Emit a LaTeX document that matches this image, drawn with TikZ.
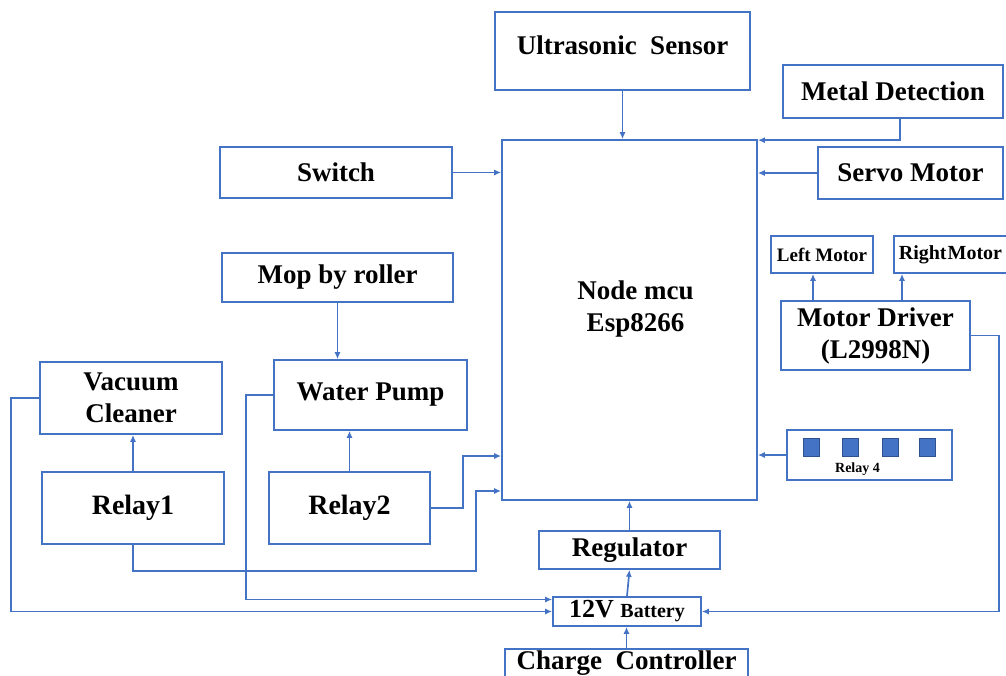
\documentclass[tikz,border=0pt]{standalone}
\usepackage{fontspec}
\setmainfont{Liberation Serif}
\usetikzlibrary{arrows.meta,calc}
\definecolor{bl}{HTML}{4472C4}
\definecolor{bldark}{HTML}{2F528F}
\begin{document}
\begin{tikzpicture}[x=1pt,y=-1pt,
  box/.style={draw=bl,line width=1.7pt,inner sep=2pt,align=center,
    font=\bfseries\fontsize{27}{32}\selectfont},
  smallbox/.style={box,font=\bfseries\fontsize{19}{22}\selectfont},
  arr/.style={draw=bl,line width=1.7pt,-{Latex[length=7pt,width=6pt]}},
  sq/.style={fill=bl,draw=bldark,line width=0.8pt}]
\useasboundingbox (0,0) rectangle (1006,675);
\clip (0,0) rectangle (1006,675);
\fill[white] (0,0) rectangle (1006,675);
% nodes
\node[box,minimum width=255pt,minimum height=78pt,
  label={[font=\bfseries\fontsize{27}{32}\selectfont,yshift=6pt]center:Ultrasonic\ \ Sensor}] (us) at (622.5,51) {};
\node[box,minimum width=220pt,minimum height=53pt] (md) at (893,91.5) {Metal Detection};
\node[box,minimum width=185pt,minimum height=52pt] (servo) at (910.5,173) {Servo Motor};
\node[box,minimum width=232pt,minimum height=51pt] (sw) at (336,172.5) {Switch};
\node[box,minimum width=231pt,minimum height=49pt] (mop) at (337.5,277.5) {Mop by\ roller};
\node[box,minimum width=255pt,minimum height=360pt,
  label={[font=\bfseries\fontsize{27}{32}\selectfont,align=center,xshift=6pt,yshift=11pt]center:Node mcu\\Esp8266}] (mcu) at (629.5,320) {};
\node[smallbox,minimum width=102pt,minimum height=37pt] (lm) at (822,254.5) {Left Motor};
\node[box,font=\bfseries\fontsize{20}{22}\selectfont,anchor=west,text width=112pt,align=left,inner xsep=5pt,minimum height=37pt] (rm) at (893,254.5) {Right\kern1pt Motor};
\node[box,minimum width=189pt,minimum height=69pt] (drv) at (875.5,335.5) {Motor Driver\\(L2998N)};
\node[box,minimum width=165pt,minimum height=50pt] (r4) at (869.5,455) {};
\node[font=\bfseries\fontsize{14}{16}\selectfont,inner sep=0pt] (r4t) at ([xshift=-12pt,yshift=-14pt]r4.center) {Relay 4};
\node[box,minimum width=193pt,minimum height=70pt] (wp) at (370.5,395) {Water Pump};
\node[box,minimum width=182pt,minimum height=72pt] (vc) at (131,398) {Vacuum\\Cleaner};
\node[box,minimum width=182pt,minimum height=72pt,font=\bfseries\fontsize{28}{32}\selectfont] (r1) at (133,508) {Relay1};
\node[box,minimum width=161pt,minimum height=72pt,font=\bfseries\fontsize{28}{32}\selectfont] (r2) at (349.5,508) {Relay2};
\node[box,minimum width=181pt,minimum height=38pt] (reg) at (629.5,550) {Regulator};
\node[box,minimum width=148pt,minimum height=29pt,inner sep=0pt] (bat) at (627,611.5) {\fontsize{26}{28}\selectfont 12V \fontsize{20}{24}\selectfont Battery};
\node[box,minimum width=243pt,minimum height=29pt] (cc) at (626.5,663.5) {Charge\ \ Controller};
% relay 4 squares
\foreach \dx in {-58.5,-19.5,20.5,57.5}
  \draw[sq] ([xshift=\dx pt,yshift=8pt]r4.center) +(-8,-9) rectangle +(8,9);
% connectors
\draw[arr] (us.south) -- (us.south |- mcu.north);
\draw[arr] ([xshift=7pt]md.south) |- ([yshift=-1pt]mcu.north east);
\draw[arr] (servo.west) -- (servo.west -| mcu.east);
\draw[arr] (sw.east) -- (sw.east -| mcu.west);
\draw[arr] (mop.south) -- (mop.south |- wp.north);
\draw[arr] ([xshift=-62.5pt]drv.north) -- ([xshift=-62.5pt]drv.north |- lm.south);
\draw[arr] ([xshift=26.5pt]drv.north) -- ([xshift=26.5pt]drv.north |- rm.south);
\draw[arr] (r4.west) -- (r4.west -| mcu.east);
\draw[arr] (r1.north) -- (r1.north |- vc.south);
\draw[arr] (r2.north) -- (r2.north |- wp.south);
\draw[arr] (r2.east) -- ++(32,0) |- ([yshift=-136pt]mcu.west);
\draw[arr] (r1.south) -- ++(0,26) -| ([xshift=-25pt,yshift=-171pt]mcu.west) -- ([yshift=-171pt]mcu.west);
\draw[arr] (wp.west) -- ++(-27,0) |- ([yshift=12pt]bat.west);
\draw[arr] (vc.west) -- ++(-28,0) |- (bat.west);
\draw[arr] (drv.east) -- ++(28,0) |- (bat.east);
\draw[arr] (cc.north) -- (cc.north |- bat.south);
\draw[arr] (bat.north) -- (reg.south);
\draw[arr] (reg.north) -- (reg.north |- mcu.south);
\end{tikzpicture}
\end{document}
